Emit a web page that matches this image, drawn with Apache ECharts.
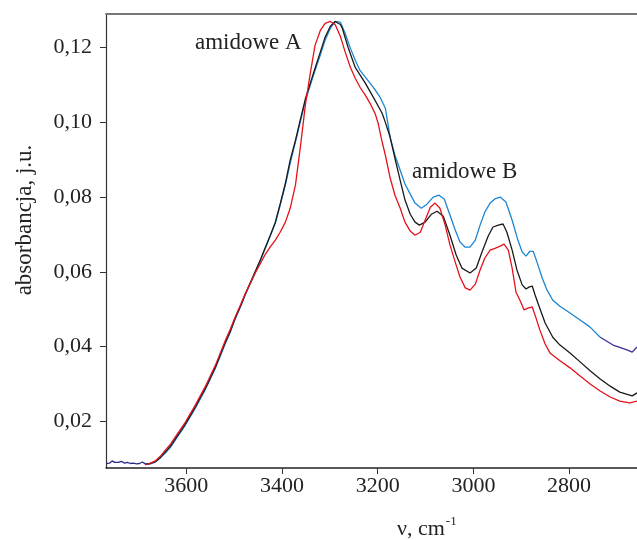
<!DOCTYPE html>
<html>
<head>
<meta charset="utf-8">
<script src="https://cdn.jsdelivr.net/npm/echarts@6/dist/echarts.min.js"></script>
<style>html,body{margin:0;padding:0;background:#fff}#c{width:637px;height:540px}</style>
</head>
<body>
<div id="c"></div>
<script>
// wavenumber (cm-1) / absorbance pairs
const baseline = [[3767,0.0087],[3761,0.0088],[3755,0.0094],[3750,0.0090],[3746,0.0095],[3742,0.0090],[3736,0.0093],[3729,0.0088],[3723,0.0090],[3717,0.0087],[3711,0.0088],[3704,0.0086],[3698,0.0087],[3692,0.0091],[3686,0.0086]];

const blueCurve = [[3686,0.0086],[3675,0.0086],[3665,0.0091],[3654,0.0102],[3644,0.0115],[3633,0.0131],[3623,0.0150],[3613,0.0169],[3602,0.0190],[3592,0.0212],[3581,0.0236],[3571,0.0260],[3560,0.0286],[3550,0.0313],[3539,0.0343],[3529,0.0375],[3519,0.0407],[3508,0.0439],[3498,0.0474],[3487,0.0506],[3477,0.0538],[3466,0.0570],[3456,0.0599],[3445,0.0631],[3435,0.0663],[3425,0.0696],[3414,0.0730],[3404,0.0778],[3393,0.0832],[3383,0.0891],[3372,0.0947],[3362,0.1000],[3351,0.1059],[3341,0.1099],[3331,0.1139],[3320,0.1180],[3310,0.1220],[3299,0.1252],[3289,0.1270],[3278,0.1268],[3268,0.1238],[3257,0.1198],[3247,0.1166],[3237,0.1139],[3226,0.1121],[3216,0.1105],[3205,0.1086],[3195,0.1067],[3184,0.1038],[3174,0.0960],[3164,0.0912],[3153,0.0872],[3143,0.0835],[3132,0.0808],[3122,0.0784],[3109,0.0770],[3097,0.0781],[3084,0.0800],[3072,0.0805],[3061,0.0795],[3049,0.0752],[3038,0.0712],[3028,0.0680],[3017,0.0666],[3007,0.0666],[2996,0.0685],[2986,0.0725],[2976,0.0760],[2965,0.0784],[2955,0.0795],[2944,0.0800],[2940,0.0803],[2932,0.0787],[2919,0.0738],[2907,0.0685],[2898,0.0653],[2890,0.0642],[2882,0.0655],[2875,0.0655],[2867,0.0626],[2856,0.0583],[2846,0.0551],[2834,0.0524],[2819,0.0508],[2798,0.0490],[2777,0.0471],[2756,0.0452],[2735,0.0425]];

const blueTail = [[2735,0.0425],[2708,0.0404],[2679,0.0391],[2668,0.0385],[2658,0.0399]];

const blackCurve = [[3686,0.0085],[3675,0.0087],[3665,0.0092],[3654,0.0104],[3644,0.0118],[3633,0.0134],[3623,0.0153],[3613,0.0172],[3602,0.0193],[3592,0.0215],[3581,0.0239],[3571,0.0263],[3560,0.0289],[3550,0.0316],[3539,0.0346],[3529,0.0378],[3519,0.0410],[3508,0.0442],[3498,0.0476],[3487,0.0508],[3477,0.0540],[3466,0.0572],[3456,0.0601],[3445,0.0633],[3435,0.0665],[3425,0.0696],[3414,0.0733],[3404,0.0781],[3393,0.0837],[3383,0.0899],[3372,0.0952],[3362,0.1006],[3351,0.1064],[3341,0.1105],[3331,0.1145],[3320,0.1188],[3310,0.1228],[3299,0.1257],[3289,0.1270],[3278,0.1262],[3274,0.1252],[3262,0.1201],[3247,0.1147],[3226,0.1105],[3209,0.1067],[3191,0.1025],[3184,0.1000],[3174,0.0960],[3164,0.0904],[3153,0.0845],[3143,0.0792],[3132,0.0754],[3122,0.0733],[3113,0.0725],[3101,0.0733],[3088,0.0754],[3076,0.0762],[3063,0.0749],[3049,0.0698],[3036,0.0645],[3024,0.0610],[3007,0.0597],[2994,0.0610],[2982,0.0653],[2969,0.0696],[2959,0.0720],[2948,0.0725],[2938,0.0728],[2930,0.0706],[2919,0.0658],[2909,0.0605],[2898,0.0565],[2890,0.0554],[2884,0.0559],[2877,0.0562],[2871,0.0538],[2865,0.0516],[2850,0.0463],[2834,0.0425],[2819,0.0404],[2798,0.0383],[2777,0.0359],[2756,0.0335],[2735,0.0313],[2714,0.0294],[2694,0.0278],[2668,0.0268],[2658,0.0276]];

const redCurve = [[3686,0.0083],[3675,0.0088],[3665,0.0094],[3654,0.0107],[3644,0.0123],[3633,0.0139],[3623,0.0158],[3613,0.0177],[3602,0.0198],[3592,0.0220],[3581,0.0244],[3571,0.0268],[3560,0.0294],[3550,0.0321],[3539,0.0351],[3529,0.0383],[3519,0.0415],[3508,0.0447],[3498,0.0479],[3487,0.0511],[3477,0.0541],[3466,0.0570],[3456,0.0597],[3445,0.0623],[3435,0.0647],[3425,0.0666],[3414,0.0685],[3404,0.0706],[3393,0.0733],[3383,0.0770],[3372,0.0832],[3362,0.0931],[3351,0.1049],[3341,0.1131],[3331,0.1206],[3320,0.1246],[3310,0.1265],[3299,0.1270],[3289,0.1262],[3278,0.1230],[3268,0.1188],[3257,0.1147],[3247,0.1118],[3237,0.1094],[3226,0.1073],[3216,0.1051],[3205,0.1022],[3199,0.0997],[3193,0.0960],[3184,0.0912],[3174,0.0851],[3164,0.0805],[3153,0.0770],[3143,0.0733],[3132,0.0709],[3122,0.0698],[3111,0.0706],[3101,0.0738],[3090,0.0773],[3080,0.0784],[3070,0.0770],[3059,0.0725],[3049,0.0672],[3038,0.0626],[3028,0.0586],[3017,0.0557],[3007,0.0551],[2996,0.0567],[2986,0.0605],[2976,0.0637],[2965,0.0658],[2955,0.0663],[2944,0.0669],[2936,0.0674],[2927,0.0658],[2919,0.0610],[2911,0.0546],[2902,0.0522],[2894,0.0498],[2886,0.0503],[2877,0.0506],[2869,0.0476],[2861,0.0444],[2850,0.0407],[2840,0.0383],[2819,0.0362],[2798,0.0343],[2777,0.0321],[2756,0.0300],[2735,0.0281],[2714,0.0265],[2694,0.0254],[2673,0.0249],[2658,0.0254]];

const xTicks = [3600, 3400, 3200, 3000, 2800];
const yTicks = [0.02, 0.04, 0.06, 0.08, 0.10, 0.12];
const yAxisTitle = 'absorbancja, j.u.';
const labelA = 'amidowe A';
const labelB = 'amidowe B';

const FONT = 'Liberation Serif';
const chart = echarts.init(document.getElementById('c'), null, {renderer: 'canvas'});
const line = (data, color, z) => ({
  type: 'line', data: data, showSymbol: false, symbol: 'none', z: z,
  lineStyle: {color: color, width: 1.3}, animation: false
});
chart.setOption({
  animation: false,
  backgroundColor: '#fff',
  grid: {left: 106, right: 0, top: 14, bottom: 72},
  xAxis: [{
    type: 'value', inverse: true, min: 2658, max: 3768,
    axisLine: {show: true, onZero: false, lineStyle: {color: '#222', width: 1.5}},
    axisTick: {show: true, inside: false, length: 6, customValues: xTicks, lineStyle: {color: '#333'}},
    axisLabel: {customValues: xTicks, margin: 7, fontFamily: FONT, fontSize: 22, color: '#222',
      formatter: v => String(v)},
    splitLine: {show: false}
  }, {
    type: 'value', inverse: true, min: 2658, max: 3768, position: 'top',
    axisLine: {show: true, onZero: false, lineStyle: {color: '#777', width: 2}},
    axisTick: {show: false}, axisLabel: {show: false}, splitLine: {show: false}
  }],
  yAxis: {
    type: 'value', min: 0.0075, max: 0.129,
    axisLine: {show: true, onZero: false, lineStyle: {color: '#333', width: 1.2}},
    axisTick: {show: true, length: 6, customValues: yTicks, lineStyle: {color: '#333'}},
    axisLabel: {customValues: yTicks, margin: 14, fontFamily: FONT, fontSize: 22, color: '#222',
      formatter: v => v.toFixed(2).replace('.', ',')},
    splitLine: {show: false}
  },
  graphic: [
    {type: 'text', x: 25, y: 220, rotation: Math.PI / 2,
      style: {text: yAxisTitle, font: '23px "' + FONT + '"', fill: '#222', align: 'center', verticalAlign: 'middle'}},
    {type: 'text', x: 397, y: 515,
      style: {text: '{n|ν, cm}{s|-1}', fill: '#222', rich: {
        n: {fontFamily: FONT, fontSize: 22, fill: '#222', verticalAlign: 'bottom'},
        s: {fontFamily: FONT, fontSize: 13, fill: '#222', verticalAlign: 'top', padding: [0, 0, 12, 1]}
      }}},
    {type: 'text', x: 195, y: 31, style: {text: labelA, font: '23px "' + FONT + '"', fill: '#222'}},
    {type: 'text', x: 412, y: 160, style: {text: labelB, font: '23px "' + FONT + '"', fill: '#222'}}
  ],
  series: [
    line(baseline, '#2a2a86', 5),
    line(blueCurve, '#1c86d1', 3),
    line(blueTail, '#3a2f96', 3),
    line(blackCurve, '#1a1a1a', 4),
    line(redCurve, '#e4121b', 5)
  ]
});
</script>
</body>
</html>
